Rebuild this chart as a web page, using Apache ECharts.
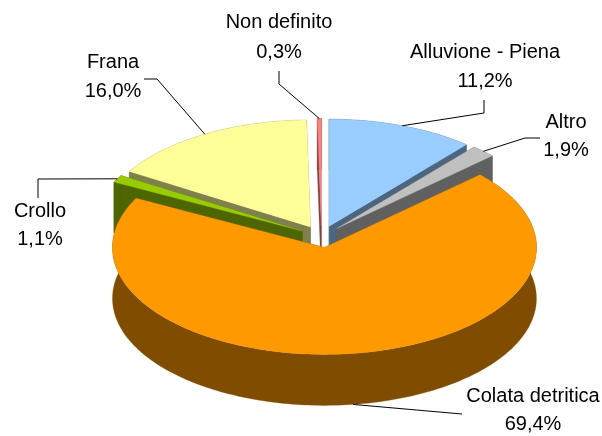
<!DOCTYPE html>
<html>
<head>
<meta charset="utf-8">
<style>html,body{margin:0;padding:0;background:#fff}#c{width:602px;height:436px}</style>
<script src="https://cdn.jsdelivr.net/npm/echarts@6/dist/echarts.min.js"></script>
</head>
<body>
<div id="c"></div>
<script>
// Data, clockwise from 12 o'clock
const categories = ['Alluvione - Piena', 'Altro', 'Colata detritica', 'Crollo', 'Frana', 'Non definito'];
const values = [11.2, 1.9, 69.4, 1.1, 16.0, 0.3];

// Styles
const topColors = ['#99CCFF', '#C0C0C0', '#FF9900', '#99CC00', '#FFFF99', '#FF8080'];
const wallColors = ['#4D6680', '#606060', '#804D00', '#4D6600', '#80804D', '#804040'];
// Back-to-front painting order of the slices
const paintOrder = [5, 4, 3, 0, 1, 2];
// Label layout: centre x, y of first line, y of second line, leader polyline start
const labelLayout = [
  {x: 485, y1: 52, y2: 81, lead: [[484, 100], [484, 113]]},
  {x: 566, y1: 122, y2: 150, lead: [[540, 138], [525, 138]]},
  {x: 533, y1: 396, y2: 424, lead: [[462, 414]]},
  {x: 40, y1: 211, y2: 239, lead: [[38, 198], [38, 179]]},
  {x: 113, y1: 62, y2: 91, lead: [[144, 79], [157, 79]]},
  {x: 279, y1: 22, y2: 52, lead: [[279, 71], [279, 84]]}
];
const pie = {cx: 321.5, cy: 236.5, rx: 212, ry: 107, ex: 22, ey: 11, depth: 51};

const total = values.reduce((a, b) => a + b, 0);
function sliceAngles(i) {
  let s = 0;
  for (let k = 0; k < i; k++) s += values[k];
  return [s / total * 2 * Math.PI, (s + values[i]) / total * 2 * Math.PI];
}
function arcPts(ax, ay, a0, a1) {
  const n = Math.max(2, Math.ceil((a1 - a0) / 0.02));
  const pts = [];
  for (let j = 0; j <= n; j++) {
    const a = a0 + (a1 - a0) * j / n;
    pts.push([ax + pie.rx * Math.sin(a), ay - pie.ry * Math.cos(a)]);
  }
  return pts;
}
const down = (p) => [p[0], p[1] + pie.depth];

function renderItem(params, api) {
  const i = api.value(0);
  const order = paintOrder.indexOf(i);
  const [a0, a1] = sliceAngles(i);
  const mid = (a0 + a1) / 2;
  const ax = pie.cx + pie.ex * Math.sin(mid);
  const ay = pie.cy - pie.ey * Math.cos(mid);
  const apex = [ax, ay];
  const arc = arcPts(ax, ay, a0, a1);
  const wall = wallColors[i];
  const poly = (points, fill, z2) => ({
    type: 'polygon', shape: {points}, z2,
    style: {fill, stroke: fill, lineWidth: 0.3}, silent: true
  });
  const first = arc[0], last = arc[arc.length - 1];
  const kids = [
    poly([apex, first, down(first), down(apex)], wall, order * 10),
    poly([apex, last, down(last), down(apex)], wall, order * 10 + 1),
    poly(arc.concat(arc.map(down).reverse()), wall, order * 10 + 2),
    poly([apex].concat(arc), topColors[i], order * 10 + 3)
  ];
  // Leader line, ending at the middle of the slice's rim
  const lay = labelLayout[i];
  let anchor = [ax + pie.rx * Math.sin(mid), ay - pie.ry * Math.cos(mid)];
  if (Math.cos(mid) < 0) anchor = down(anchor);
  kids.push({
    type: 'polyline', z2: 100, silent: true,
    shape: {points: lay.lead.concat([anchor])},
    style: {fill: null, stroke: '#000', lineWidth: 1}
  });
  const txt = (y, text) => ({
    type: 'text', z2: 101, silent: true,
    style: {x: lay.x, y, text, fill: '#000', align: 'center', verticalAlign: 'middle',
      font: '20px "Liberation Sans", Arial, sans-serif'}
  });
  kids.push(txt(lay.y1, categories[i]));
  kids.push(txt(lay.y2, values[i].toFixed(1).replace('.', ',') + '%'));
  return {type: 'group', children: kids};
}

const chart = echarts.init(document.getElementById('c'), null, {renderer: 'canvas', width: 602, height: 436});
chart.setOption({
  animation: false,
  backgroundColor: '#fff',
  series: [{
    type: 'custom',
    coordinateSystem: 'none',
    renderItem,
    data: paintOrder.map((i) => [i, values[i]])
  }]
});
</script>
</body>
</html>
